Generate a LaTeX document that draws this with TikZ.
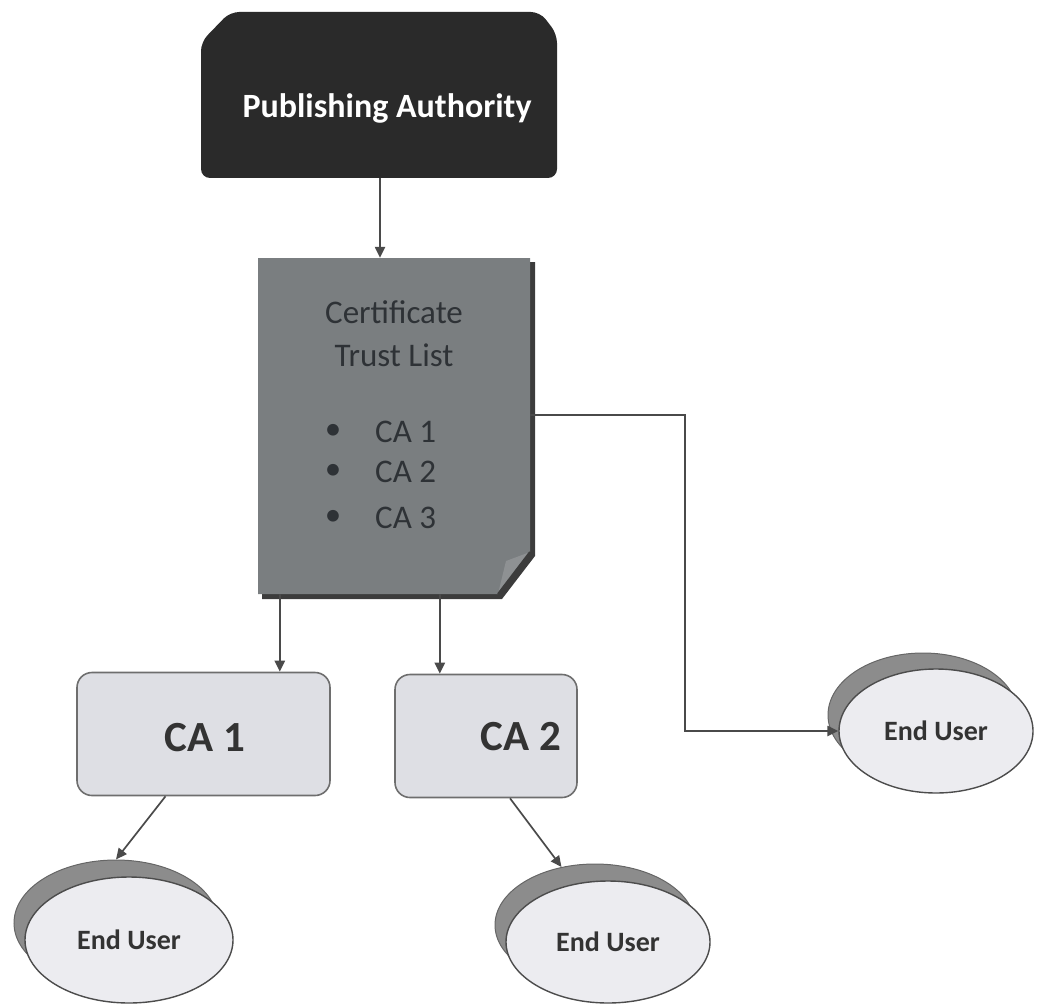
\documentclass[tikz,border=0pt]{standalone}
\usepackage{fontspec}
\setmainfont{Carlito}
\usetikzlibrary{arrows.meta,shapes.geometric}
\definecolor{pafill}{HTML}{2A2A2A}
\definecolor{ctlfill}{HTML}{7A7E80}
\definecolor{ctlshadow}{HTML}{3C3C3C}
\definecolor{ctltext}{HTML}{2E3236}
\definecolor{cafill}{HTML}{DEDFE4}
\definecolor{euface}{HTML}{ECECF0}
\definecolor{eushadow}{HTML}{8C8C8C}
\definecolor{linec}{HTML}{4A4A4A}
\tikzset{
  arr/.style={draw=linec, line width=2.3pt, -{Triangle[length=11pt,width=10pt]}},
  plainbox/.style={rectangle, inner sep=0pt},
  cabox/.style={rectangle, rounded corners=15pt, fill=cafill, draw=linec!80, line width=1.6pt, inner sep=0pt},
  cabtext/.style={font=\bfseries\fontsize{43}{48}\selectfont, text=black!80},
  ctltxt/.style={font=\fontsize{33}{38}\selectfont, text=ctltext, inner sep=0pt},
  euback/.style={ellipse, fill=eushadow, draw=black!60, line width=1pt, inner sep=0pt},
  eufront/.style={ellipse, fill=euface, draw=black!70, line width=1.4pt, inner sep=0pt,
    font=\bfseries\fontsize{28}{32}\selectfont, text=black!80},
}
\begin{document}
\begin{tikzpicture}[x=1pt,y=-1pt]
\useasboundingbox (0,0) rectangle (1043,1003);
% Publishing Authority
\fill[pafill, rounded corners=9pt] (201,42) -- (230,12) -- (540,12) -- (557,34) -- (557,178) -- (201,178) -- cycle;
\node[plainbox, minimum width=356pt, minimum height=166pt] (pa) at (380,95) {};
\node[font=\bfseries\fontsize{34}{40}\selectfont, text=white, inner sep=0pt] (patext) at (387,108) {Publishing Authority};
% Certificate Trust List
\fill[ctlshadow] (262,262) -- (535,262) -- (535,556) -- (502,599) -- (262,599) -- cycle;
\fill[ctlfill] (258,258) -- (530,258) -- (530,552) -- (498,594) -- (258,594) -- cycle;
\fill[ctlfill!85!white] (530,552) -- (506,561) -- (498,594) -- cycle;
\draw[ctlshadow, line width=2pt] (530,552) -- (498,594);
\node[plainbox, minimum width=272pt, minimum height=336pt] (ctl) at (394,426) {};
\node[ctltxt] (ctl1) at (394,312) {Certificate};
\node[ctltxt] (ctl2) at (394,355) {Trust List};
\node[ctltxt] (b1) at (333,432) {•};
\node[ctltxt] (b2) at (333,472) {•};
\node[ctltxt] (b3) at (333,518) {•};
\node[ctltxt, anchor=west] (i1) at (375,432) {CA 1};
\node[ctltxt, anchor=west] (i2) at (375,472) {CA 2};
\node[ctltxt, anchor=west] (i3) at (375,518) {CA 3};
% CA boxes
\node[cabox, minimum width=253pt, minimum height=123pt] (ca1) at (203.5,734) {};
\node[cabtext] (ca1t) at (205,738) {CA 1};
\node[cabox, minimum width=182pt, minimum height=123pt] (ca2) at (486,736) {};
\node[cabtext] (ca2t) at (521,737) {CA 2};
% End users
\node[euback, minimum width=204pt, minimum height=126pt] (eu1s) at (116,923) {};
\node[eufront, minimum width=208pt, minimum height=126pt] (eu1) at (129,940) {End User};
\node[euback, minimum width=200pt, minimum height=122pt] (eu2s) at (595,925) {};
\node[eufront, minimum width=204pt, minimum height=122pt] (eu2) at (608,942) {End User};
\node[euback, minimum width=190pt, minimum height=124pt] (eu3s) at (923,715) {};
\node[eufront, minimum width=194pt, minimum height=124pt] (eu3) at (936,731) {End User};
% connectors
\draw[arr] (pa.south) -- (pa.south |- ctl.north);
\draw[arr] ([xshift=22pt]ctl.south west) -- ([xshift=22pt]ctl.south west |- ca1.north);
\draw[arr] ([xshift=182pt]ctl.south west) -- ([xshift=182pt]ctl.south west |- ca2.north);
\draw[arr] ([yshift=11pt]ctl.east) -- ++(155,0) |- (eu3.west);
\draw[arr, line width=1.7pt] ([xshift=-38pt]ca1.south) -- (eu1s.north);
\draw[arr, line width=1.7pt] ([xshift=24pt]ca2.south) -- (eu2s.120);
\end{tikzpicture}
\end{document}
